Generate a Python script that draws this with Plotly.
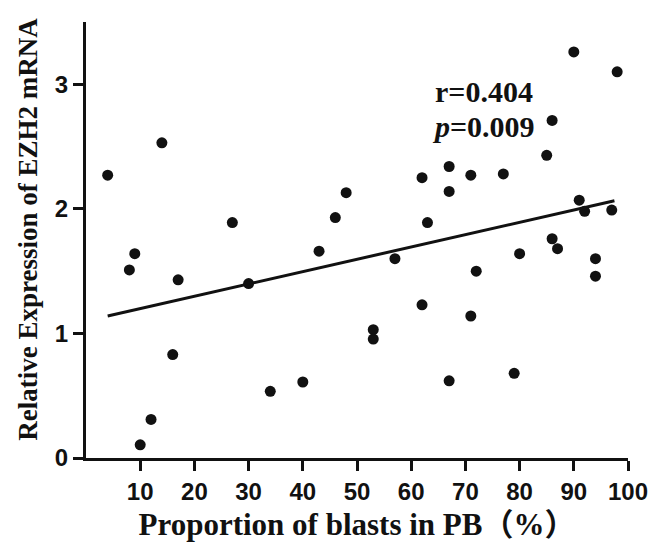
import plotly.graph_objects as go

# Data
blasts_pct = [4, 8, 9, 10, 12, 14, 16, 17, 27, 30, 34, 40, 43, 46, 48, 53, 53, 57,
              62, 62, 63, 67, 67, 67, 71, 71, 72, 77, 79, 80, 85, 86, 86, 87, 90,
              91, 92, 94, 94, 97, 98]
ezh2_expr = [2.27, 1.51, 1.64, 0.106, 0.31, 2.53, 0.83, 1.43, 1.89, 1.40, 0.535, 0.61,
             1.66, 1.93, 2.13, 1.03, 0.955, 1.60, 2.25, 1.23, 1.89, 2.34, 2.14, 0.62,
             2.27, 1.14, 1.50, 2.28, 0.68, 1.64, 2.43, 2.71, 1.76, 1.68, 3.26, 2.07,
             1.98, 1.60, 1.46, 1.99, 3.10]
fit_x = [4, 97.5]
fit_y = [1.14, 2.065]
x_ticks = [10, 20, 30, 40, 50, 60, 70, 80, 90, 100]
y_ticks = [0, 1, 2, 3]

fig = go.Figure()
fig.add_trace(go.Scatter(x=fit_x, y=fit_y, mode="lines",
                         line=dict(color="#111111", width=3), showlegend=False))
fig.add_trace(go.Scatter(x=blasts_pct, y=ezh2_expr, mode="markers",
                         marker=dict(color="#111111", size=11), showlegend=False))

serif = "Liberation Serif, Times New Roman, Noto Sans CJK SC, serif"
sans = "Liberation Sans, Arial, sans-serif"

fig.add_annotation(x=64.0, y=2.94, xref="x", yref="y", text="<b>r=0.404</b>",
                   showarrow=False, xanchor="left", yanchor="middle",
                   font=dict(family=serif, size=30, color="#111111"))
fig.add_annotation(x=63.4, y=2.66, xref="x", yref="y", text="<b><i>p</i>=0.009</b>",
                   showarrow=False, xanchor="left", yanchor="middle",
                   font=dict(family=serif, size=30, color="#111111"))
# y-axis title
fig.add_annotation(x=-0.106, y=0.525, xref="paper", yref="paper",
                   text="<b>Relative Expression of EZH2 mRNA</b>", textangle=-90,
                   showarrow=False, xanchor="center", yanchor="middle",
                   font=dict(family=serif, size=27, color="#111111"))

# page body has an 8px default margin, so the figure is a bit smaller
fig.update_layout(
    width=656, height=535,
    margin=dict(l=78, r=36, t=14, b=85),
    plot_bgcolor="white", paper_bgcolor="white",
)
fig.update_xaxes(
    range=[0, 100], tickvals=x_ticks, showgrid=False, zeroline=False,
    showline=True, linecolor="#111111", linewidth=3, automargin=False,
    ticks="outside", ticklen=10, tickwidth=3, tickcolor="#111111",
    tickfont=dict(family=sans, size=24, color="#111111", weight="bold"),
    title=dict(text="<b>Proportion of blasts in PB（%）</b>", standoff=10,
               font=dict(family=serif, size=31, color="#111111")),
)
fig.update_yaxes(
    range=[0, 3.5], tickvals=y_ticks, showgrid=False, zeroline=False,
    showline=True, linecolor="#111111", linewidth=3, automargin=False,
    ticks="outside", ticklen=10, tickwidth=3, tickcolor="#111111",
    tickfont=dict(family=sans, size=24, color="#111111", weight="bold"),
)

fig.write_html("out.html")
